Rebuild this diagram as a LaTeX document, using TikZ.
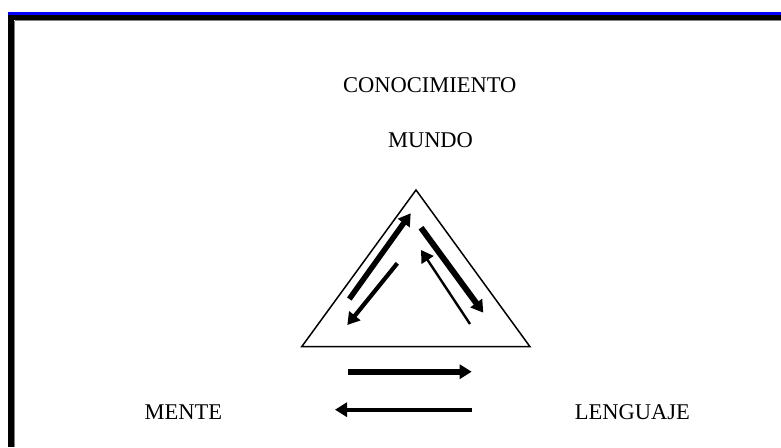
\documentclass[tikz,border=0pt]{standalone}
\usepackage{fontspec}
\setmainfont{Liberation Serif}
\usetikzlibrary{arrows.meta}

\begin{document}
\begin{tikzpicture}[x=1pt,y=-1pt,
    concepto/.style ={inner sep = 0pt, font=\fontsize{22.5}{27}\selectfont},
    flecha/.style ={line width=#1, -{Triangle[length=12pt,width=14pt]}}]
   \useasboundingbox (0,0) rectangle (781,447);
   % marco
   \fill[blue] (8,12) rectangle (781,15);
   \fill[black] (8,15) rectangle (781,20);
   \fill[black] (8,15) rectangle (14,447);
   \draw[gray,line width=1pt] (14.5,20.5) -- (781,20.5);
   \draw[gray,line width=1pt] (14.5,20.5) -- (14.5,447);
   % textos
   \node[concepto] (conocimiento) at (429.7,84.7) {CONOCIMIENTO};
   \node[concepto] (mundo) at (430.5,140) {MUNDO};
   \node[concepto] (mente) at (183.3,412) {MENTE};
   \node[concepto] (lenguaje) at (632.3,412) {LENGUAJE};
   % triangulo
   \coordinate (cima) at (416,190);
   \coordinate (izq) at (301.7,346.7);
   \coordinate (der) at (530,346.7);
   \draw[line width=1.5pt,line join=miter] (cima) -- (izq) -- (der) -- cycle;
   % flechas del triangulo
   \coordinate (a1) at (349.3,299);   \coordinate (a2) at (410.7,213.3);
   \coordinate (b1) at (397.3,263.3); \coordinate (b2) at (347.3,325);
   \coordinate (c1) at (421,227.7);   \coordinate (c2) at (483.3,312.7);
   \coordinate (d1) at (470,324);     \coordinate (d2) at (421,250);
   \draw[flecha=5.5pt] (a1) -- (a2);
   \draw[flecha=4.2pt] (b1) -- (b2);
   \draw[flecha=6pt] (c1) -- (c2);
   \draw[flecha=2.4pt] (d1) -- (d2);
   % flechas horizontales
   \coordinate (e1) at (348.3,371.7); \coordinate (e2) at (471.7,371.7);
   \coordinate (f1) at (471.7,409.7); \coordinate (f2) at (335,409.7);
   \draw[flecha=6pt] (e1) -- (e2);
   \draw[flecha=4pt] (f1) -- (f2);
 \end{tikzpicture}
\end{document}
